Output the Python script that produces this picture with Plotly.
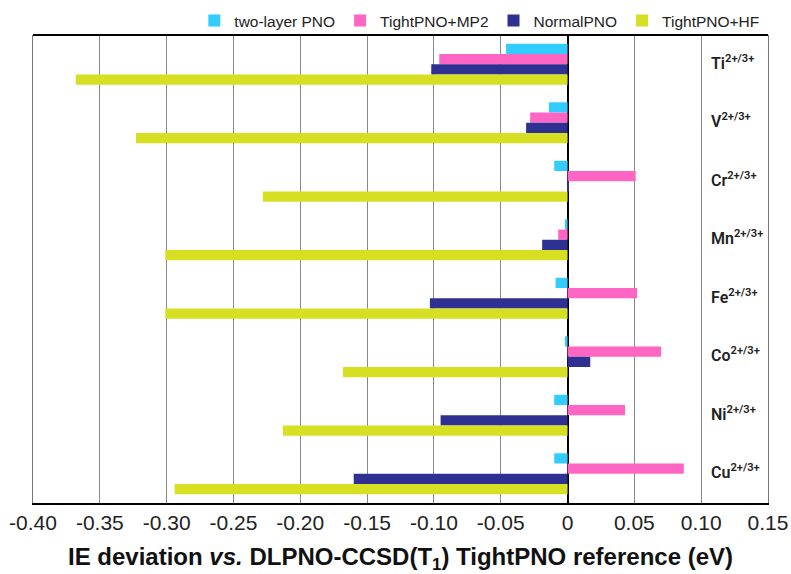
import plotly.graph_objects as go

categories = ["Ti", "V", "Cr", "Mn", "Fe", "Co", "Ni", "Cu"]
series_names = ["two-layer PNO", "TightPNO+MP2", "NormalPNO", "TightPNO+HF"]
two_layer = [-0.046, -0.014, -0.010, -0.002, -0.009, -0.002, -0.010, -0.010]
tight_mp2 = [-0.096, -0.028, 0.051, -0.007, 0.052, 0.070, 0.043, 0.087]
normal_pno = [-0.102, -0.031, 0.001, -0.019, -0.103, 0.017, -0.095, -0.160]
tight_hf = [-0.368, -0.323, -0.228, -0.301, -0.301, -0.168, -0.213, -0.294]
colors = ["#33ccff", "#ff66c4", "#2e3192", "#d7df23"]
x_ticks = [-0.40, -0.35, -0.30, -0.25, -0.20, -0.15, -0.10, -0.05, 0, 0.05, 0.10, 0.15]
x_tick_text = ["-0.40", "-0.35", "-0.30", "-0.25", "-0.20", "-0.15", "-0.10", "-0.05", "0", "0.05", "0.10", "0.15"]

fig = go.Figure()
for name, vals, col in zip(series_names, [two_layer, tight_mp2, normal_pno, tight_hf], colors):
    fig.add_trace(go.Bar(y=categories, x=vals, name=name, orientation="h",
                         marker=dict(color=col, line=dict(width=0))))

for c in categories:
    fig.add_annotation(x=0.1055, y=c, xref="x", yref="y", xanchor="left", yanchor="middle",
                       text=f"{c}<sup>2+/3+</sup>", showarrow=False, yshift=2,
                       font=dict(family="Roboto, sans-serif", weight=600,
                                 size=16, color="#222"))

fig.update_layout(
    width=791, height=574,
    margin=dict(l=33, r=23, t=35, b=71, autoexpand=False),
    paper_bgcolor="white", plot_bgcolor="white",
    barmode="group", bargap=0.3, bargroupgap=0,
    font=dict(family="Liberation Sans, Arial, sans-serif", color="#222"),
    legend=dict(orientation="h", x=0.995, xanchor="right", y=1.03, yanchor="middle",
                font=dict(size=15.5), traceorder="normal", itemwidth=30,
                bgcolor="rgba(0,0,0,0)"),
    xaxis=dict(range=[-0.40, 0.15], tickvals=x_ticks, ticktext=x_tick_text,
               showgrid=True, gridcolor="#888", gridwidth=1,
               zeroline=True, zerolinecolor="black", zerolinewidth=2,
               showline=True, linecolor="black", linewidth=2, mirror=False,
               ticks="", tickfont=dict(size=21, color="#222"),
               title=dict(text="<b>IE deviation <i>vs.</i> DLPNO-CCSD(T<sub>1</sub>) TightPNO reference (eV)</b>",
                          font=dict(size=24, color="#111"), standoff=17)),
    yaxis=dict(autorange="reversed", showticklabels=False, showgrid=False, zeroline=False,
               showline=True, linecolor="#777", linewidth=1, mirror=True, ticks=""),
)
fig.add_shape(type="line", xref="paper", yref="paper", x0=0, x1=1, y0=1, y1=1,
              line=dict(color="black", width=2))

fig.write_html("out.html")
